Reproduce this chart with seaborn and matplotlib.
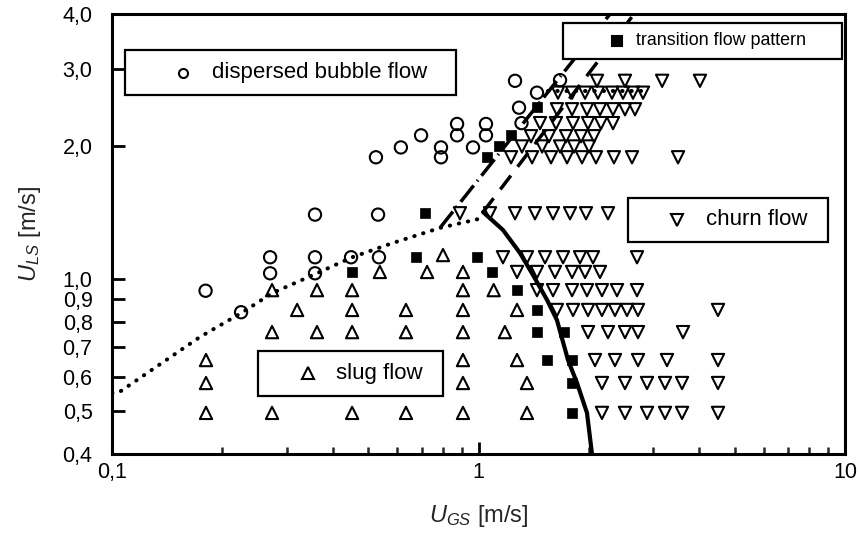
import numpy as np
import pandas as pd
import matplotlib
matplotlib.use('Agg')
import matplotlib.pyplot as plt
import seaborn as sns
from matplotlib.patches import Rectangle
from matplotlib.ticker import FixedLocator, FixedFormatter, NullFormatter

# ---------------- data ----------------
bubble_ugs = [0.18, 0.225, 0.27, 0.27, 0.358, 0.358, 0.358, 0.449, 0.532, 0.535,
              0.525, 0.614, 0.697, 0.79, 0.79, 0.874, 0.874, 0.966, 1.048, 1.048,
              1.258, 1.444, 1.29, 1.31, 1.669]
bubble_uls = [0.94, 0.84, 1.12, 1.03, 1.40, 1.12, 1.03, 1.12, 1.40, 1.12,
              1.89, 1.99, 2.12, 1.99, 1.89, 2.25, 2.12, 1.99, 2.25, 2.12,
              2.82, 2.65, 2.45, 2.26, 2.83]

trans_ugs = [0.452, 0.675, 0.714, 0.99, 1.088, 1.055, 1.137, 1.227, 1.444,
             1.274, 1.444, 1.444, 1.712, 1.538, 1.80, 1.80, 1.80]
trans_uls = [1.037, 1.12, 1.41, 1.12, 1.037, 1.89, 2.0, 2.12, 2.46,
             0.943, 0.85, 0.757, 0.757, 0.654, 0.654, 0.58, 0.496]

slug_ugs = [0.1805, 0.2733, 0.452, 0.634, 0.907, 1.356,
            0.1805, 0.907, 1.356,
            0.1805, 0.907, 1.274,
            0.2733, 0.3625, 0.452, 0.634, 0.907, 1.18,
            0.32, 0.452, 0.634, 0.907, 1.274,
            0.2733, 0.3625, 0.452, 0.907, 1.10,
            0.538, 0.724, 0.907,
            0.80]
slug_uls = [0.496] * 6 + [0.58] * 3 + [0.654] * 3 + [0.757] * 6 + [0.85] * 5 + \
           [0.943] * 5 + [1.037] * 3 + [1.133]

churn_ugs = [0.89, 1.075, 1.258, 1.426, 1.597, 1.777, 1.965, 2.256,
             1.166, 1.356, 1.519, 1.701, 1.892, 2.053, 2.707,
             1.274, 1.444, 1.617, 1.80, 1.953, 2.145,
             1.444, 1.597, 1.80, 1.977, 2.172, 2.387, 2.707,
             1.637, 1.811, 1.99, 2.172, 2.357, 2.542, 2.724, 4.503,
             1.99, 2.256, 2.51, 2.724, 3.614,
             2.079, 2.357, 2.724, 3.268, 4.503,
             2.172, 2.51, 2.883, 3.228, 3.592, 4.503,
             2.172, 2.51, 2.883, 3.228, 3.592, 4.503,
             2.105, 2.51, 3.17, 4.02,
             1.648, 1.80, 1.953, 2.118, 2.313, 2.479, 2.64, 2.811,
             1.637, 1.80, 1.977, 2.145, 2.328, 2.51, 2.673,
             1.472, 1.627, 1.811, 1.99, 2.158, 2.328,
             1.391, 1.557, 1.733, 1.904, 2.066,
             1.314, 1.491, 1.669, 1.823, 2.002,
             1.227, 1.40, 1.577, 1.744, 1.916, 2.092, 2.342, 2.623, 3.503]
churn_uls = [1.41] * 8 + [1.12] * 7 + [1.037] * 6 + [0.943] * 7 + [0.85] * 8 + \
            [0.757] * 5 + [0.654] * 5 + [0.58] * 6 + [0.496] * 6 + \
            [2.82] * 4 + [2.65] * 8 + [2.43] * 7 + [2.26] * 6 + [2.11] * 5 + \
            [2.0] * 5 + [1.89] * 9

# boundary lines
dotted_ugs = [0.1, 0.105, 0.1738, 0.2277, 0.2733, 0.3625, 0.452, 0.584, 0.785, 1.029]
dotted_uls = [0.55, 0.554, 0.738, 0.841, 0.928, 1.03, 1.12, 1.207, 1.306, 1.376]
top_dotted_ugs = [1.55, 2.85]
top_dotted_uls = [2.67, 2.67]
dashdot_ugs = [0.785, 2.285]
dashdot_uls = [1.306, 4.0]
dashed_ugs = [1.029, 2.657]
dashed_uls = [1.419, 4.0]
solid_ugs = [1.029, 1.166, 1.298, 1.408, 1.538, 1.637, 1.755, 1.857, 1.977, 2.04]
solid_uls = [1.419, 1.292, 1.145, 1.021, 0.896, 0.806, 0.654, 0.58, 0.496, 0.4]

x_ticks = [0.1, 1, 10]
x_labels = ['0,1', '1', '10']
y_ticks = [0.4, 0.5, 0.6, 0.7, 0.8, 0.9, 1.0, 2.0, 3.0, 4.0]
y_labels = ['0,4', '0,5', '0,6', '0,7', '0,8', '0,9', '1,0', '2,0', '3,0', '4,0']

# ---------------- style ----------------
sns.set_style('white')
plt.rcParams['font.family'] = ['Liberation Sans', 'DejaVu Sans']
plt.rcParams['mathtext.fontset'] = 'custom'
plt.rcParams['mathtext.it'] = 'Liberation Sans:italic'
plt.rcParams['mathtext.rm'] = 'Liberation Sans'

fig = plt.figure(figsize=(8.59, 5.35), dpi=100)
ax = fig.add_axes([0.1304, 0.1514, 0.8533, 0.8224])
ax.set_xscale('log')
ax.set_yscale('log')

MS = 78
LW = 1.5

sns.scatterplot(x=bubble_ugs, y=bubble_uls, marker='o', s=MS, facecolors='none',
                edgecolor='black', linewidth=LW, ax=ax, zorder=3)
sns.scatterplot(x=slug_ugs, y=slug_uls, marker='^', s=MS, facecolors='none',
                edgecolor='black', linewidth=LW, ax=ax, zorder=3)
sns.scatterplot(x=churn_ugs, y=churn_uls, marker='v', s=MS, facecolors='none',
                edgecolor='black', linewidth=LW, ax=ax, zorder=3)
sns.scatterplot(x=trans_ugs, y=trans_uls, marker='s', s=62, color='black',
                edgecolor='black', linewidth=0.5, ax=ax, zorder=4)

line_kw = dict(estimator=None, sort=False, color='black', ax=ax)
sns.lineplot(x=dotted_ugs, y=dotted_uls, linewidth=2.9,
             linestyle=(0, (0.1, 2.2)), dash_capstyle='round', zorder=2, **line_kw)
sns.lineplot(x=top_dotted_ugs, y=top_dotted_uls, linewidth=2.9,
             linestyle=(0, (0.1, 2.2)), dash_capstyle='round', zorder=2, **line_kw)
sns.lineplot(x=dashdot_ugs, y=dashdot_uls, linewidth=2.5,
             linestyle=(0, (6, 1.6, 0.4, 1.6)), zorder=2, **line_kw)
sns.lineplot(x=dashed_ugs, y=dashed_uls, linewidth=2.5,
             linestyle=(0, (5, 3.2)), zorder=2, **line_kw)
sns.lineplot(x=solid_ugs, y=solid_uls, linewidth=3.0, zorder=2, **line_kw)

ax.set_xlim(0.1, 10)
ax.set_ylim(0.4, 4.0)

ax.xaxis.set_major_locator(FixedLocator(x_ticks))
ax.xaxis.set_major_formatter(FixedFormatter(x_labels))
ax.xaxis.set_minor_locator(FixedLocator([0.2, 0.3, 0.4, 0.5, 0.6, 0.7, 0.8, 0.9,
                                          2, 3, 4, 5, 6, 7, 8, 9]))
ax.xaxis.set_minor_formatter(NullFormatter())
ax.yaxis.set_major_locator(FixedLocator(y_ticks))
ax.yaxis.set_major_formatter(FixedFormatter(y_labels))
ax.yaxis.set_minor_locator(FixedLocator([]))

ax.tick_params(axis='both', which='major', direction='in', length=9, width=2,
               labelsize=15.5, colors='black')
ax.tick_params(axis='x', which='major', pad=6)
ax.tick_params(axis='y', which='major', pad=14)
ax.tick_params(axis='x', which='minor', direction='in', length=5, width=1.8,
               bottom=True)
ax.tick_params(left=True, bottom=True, top=False, right=False)

for sp in ax.spines.values():
    sp.set_color('black')
    sp.set_linewidth(2.2)

ax.set_xlabel(r'$U_{GS}$ [m/s]', fontsize=17, labelpad=14)
ax.set_ylabel(r'$U_{LS}$ [m/s]', fontsize=17, labelpad=14)

# legend-like boxes
boxes = [
    # x0, y0, w, h, marker, filled, msize, mx, tx, text, fontsize
    (0.0177, 0.816, 0.452, 0.102, 'o', False, 6.5, 0.097, 0.137, 'dispersed bubble flow', 16),
    (0.615, 0.898, 0.381, 0.082, 's', True, 7.2, 0.689, 0.715, 'transition flow pattern', 12.9),
    (0.704, 0.482, 0.273, 0.100, 'v', False, 8.0, 0.771, 0.810, 'churn flow', 16),
    (0.199, 0.132, 0.252, 0.102, '^', False, 8.4, 0.267, 0.306, 'slug flow', 16),
]
for x0, y0, w, h, m, filled, msz, mx, tx, txt, fs in boxes:
    ax.add_patch(Rectangle((x0, y0), w, h, transform=ax.transAxes, facecolor='white',
                           edgecolor='black', linewidth=1.6, zorder=6))
    cy = y0 + h / 2
    ax.plot([mx], [cy], transform=ax.transAxes, marker=m, linestyle='none',
            markersize=msz,
            markerfacecolor='black' if filled else 'none',
            markeredgecolor='black', markeredgewidth=LW, zorder=7)
    ax.text(tx, cy, txt, transform=ax.transAxes, fontsize=fs, ha='left',
            va='center', color='black', zorder=7)

fig.savefig('out.png', dpi=100)
